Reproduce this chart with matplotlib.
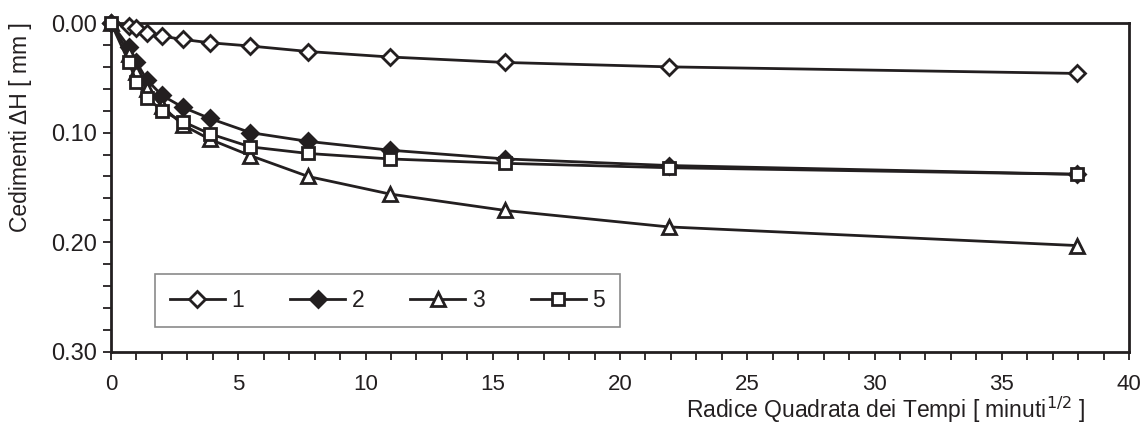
import numpy as np
import matplotlib
matplotlib.use("Agg")
import matplotlib.pyplot as plt
from matplotlib.ticker import MultipleLocator, FormatStrFormatter

plt.rcParams['font.family'] = ['Liberation Sans', 'DejaVu Sans']

# radice quadrata dei tempi (minuti^1/2)
x = [0, 0.707, 1.0, 1.414, 2.0, 2.828, 3.873, 5.477, 7.746, 10.954, 15.492, 21.909, 37.947]

# cedimenti [mm]
s1 = [0, 0.003, 0.005, 0.009, 0.012, 0.015, 0.018, 0.021, 0.026, 0.031, 0.036, 0.040, 0.046]
s2 = [0, 0.022, 0.036, 0.052, 0.066, 0.077, 0.087, 0.100, 0.108, 0.116, 0.124, 0.130, 0.138]
s3 = [0, 0.028, 0.045, 0.060, 0.076, 0.093, 0.106, 0.121, 0.140, 0.156, 0.171, 0.186, 0.203]
s5 = [0, 0.036, 0.054, 0.068, 0.080, 0.090, 0.101, 0.113, 0.119, 0.124, 0.128, 0.132, 0.138]

labels = ["1", "2", "3", "5"]

ink = '#231f20'

fig = plt.figure(figsize=(11.4, 4.26), dpi=100)
ax = fig.add_axes([0.0974, 0.174, 0.893, 0.772])

style = dict(color=ink, lw=2.0, mew=2.0, mec=ink, clip_on=False, zorder=3)
ax.plot(x, s1, marker='D', ms=8, mfc='white', label=labels[0], **style)
ax.plot(x, s2, marker='D', ms=8, mfc=ink, label=labels[1], **style)
ax.plot(x, s3, marker='^', ms=10.5, mfc='white', label=labels[2], **style)
ax.plot(x, s5, marker='s', ms=9, mfc='white', label=labels[3], **style)

ax.set_xlim(0, 40)
ax.set_ylim(0.30, 0.0)
ax.xaxis.set_major_locator(MultipleLocator(5))
ax.xaxis.set_minor_locator(MultipleLocator(1))
ax.yaxis.set_major_locator(MultipleLocator(0.1))
ax.yaxis.set_minor_locator(MultipleLocator(0.02))
ax.yaxis.set_major_formatter(FormatStrFormatter('%.2f'))

for sp in ax.spines.values():
    sp.set_linewidth(2.0)
    sp.set_color(ink)
ax.tick_params(which='both', direction='out', color=ink, width=1.3, length=6)
ax.tick_params(axis='y', labelsize=17, pad=4, labelcolor=ink)
ax.tick_params(axis='x', labelsize=16, pad=10, labelcolor=ink)

ax.set_ylabel("Cedimenti \u0394H [ mm ]", fontsize=16.5, color=ink)
ax.yaxis.set_label_coords(-0.078, 0.684)
ax.set_xlabel("Radice Quadrata dei Tempi [ minuti$^{1/2}$ ]", fontsize=16.5, color=ink)
ax.xaxis.set_label_coords(0.957, -0.2)
ax.xaxis.label.set_ha('right')
ax.xaxis.label.set_va('baseline')

leg = ax.legend(ncol=4, loc='lower left', bbox_to_anchor=(0.043, 0.076, 0.457, 0.164),
                mode='expand', fontsize=16.5, frameon=True, fancybox=False,
                handlelength=2.4, handletextpad=0.3, borderaxespad=0, borderpad=0.65)
leg.get_frame().set_edgecolor('#6d6d6d')
leg.get_frame().set_linewidth(1.2)
for t in leg.get_texts():
    t.set_color(ink)

fig.savefig("out.png", dpi=100)
